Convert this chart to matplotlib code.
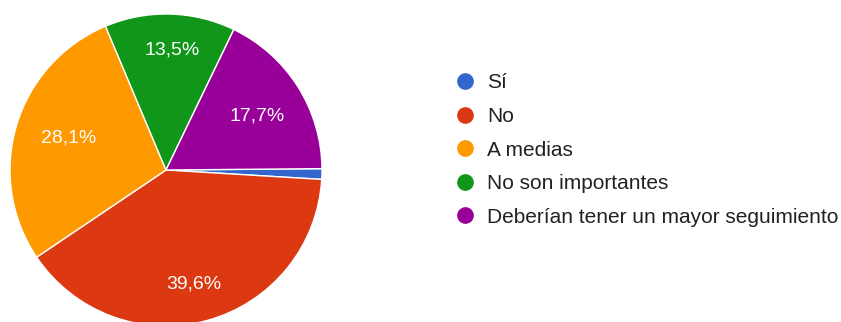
import matplotlib
matplotlib.use("Agg")
import numpy as np
import matplotlib.pyplot as plt
from matplotlib.lines import Line2D

plt.rcParams['font.family'] = ['Liberation Sans', 'DejaVu Sans']

categorias = ['Sí', 'No', 'A medias', 'No son importantes', 'Deberían tener un mayor seguimiento']
porcentajes = [1.1, 39.6, 28.1, 13.5, 17.7]
colores = ['#3366cc', '#dc3912', '#ff9900', '#109618', '#990099']

fig = plt.figure(figsize=(8.41, 3.22), dpi=100)

# eje cuadrado para la tarta, centrado a la izquierda
cx, cy, r = 166, 152, 156
ax = fig.add_axes([(cx - r) / 841, (cy - r) / 322, 2 * r / 841, 2 * r / 322])
ax.axis('off')

def etiqueta(p):
    if p < 5:
        return ''
    return f'{p:.1f}%'.replace('.', ',')

wedges, textos, autotextos = ax.pie(
    porcentajes, colors=colores, startangle=0.5, counterclock=False,
    radius=1, autopct=etiqueta, pctdistance=0.77,
    wedgeprops=dict(edgecolor='white', linewidth=1),
    textprops=dict(color='white', fontsize=14))

# acercar algunas etiquetas al centro para que queden dentro del sector
dist_etiqueta = [0.77, 0.75, 0.66, 0.77, 0.68]
for w, t, d in zip(wedges, autotextos, dist_etiqueta):
    ang = np.deg2rad((w.theta1 + w.theta2) / 2 - 1.5)
    t.set_position((d * np.cos(ang), d * np.sin(ang)))

ax.set_xlim(-1, 1)
ax.set_ylim(-1, 1)

handles = [Line2D([0], [0], marker='o', color='w', markerfacecolor=c,
                  markeredgecolor=c, markersize=11) for c in colores]
fig.legend(handles, categorias, loc='upper left',
           bbox_to_anchor=(446 / 841, 1 - 65 / 322), frameon=False,
           fontsize=15, labelspacing=0.7, handlelength=1.0,
           handletextpad=0.56, labelcolor='#222222', borderaxespad=0)

fig.savefig('out.png', dpi=100)
